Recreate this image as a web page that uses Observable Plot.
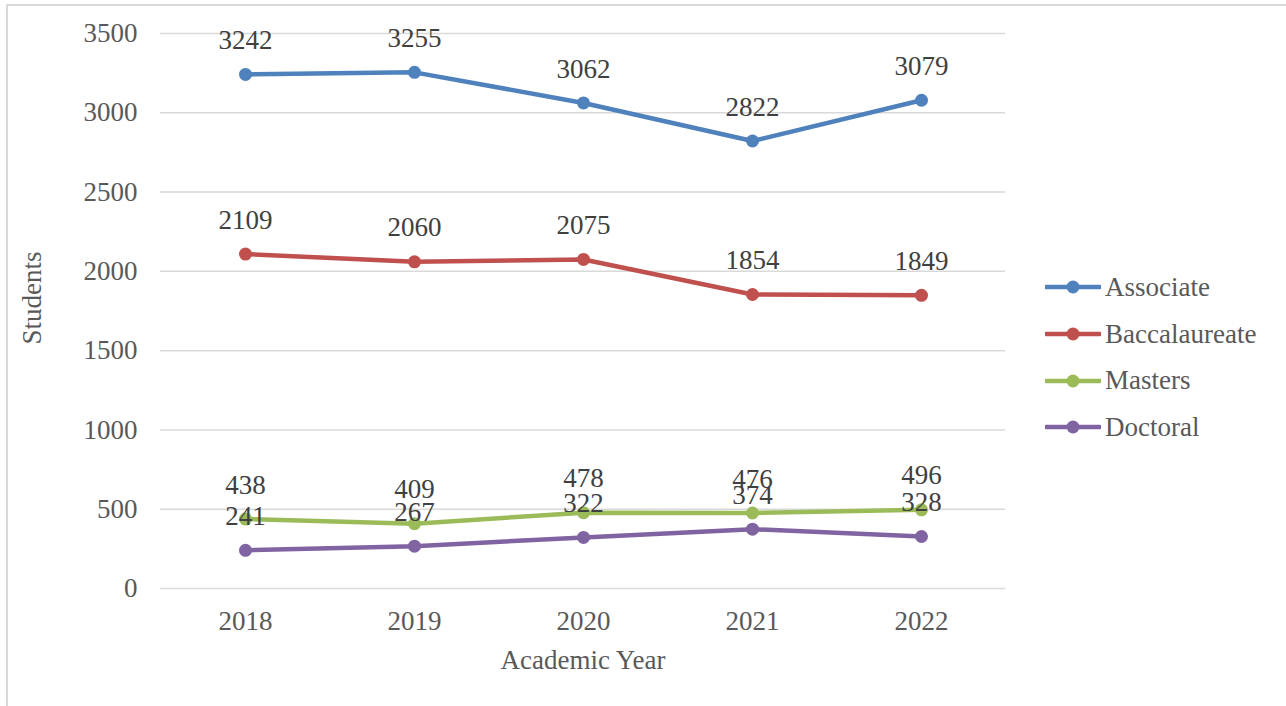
<!DOCTYPE html>
<html>
<head>
<meta charset="utf-8">
<script src="https://cdn.jsdelivr.net/npm/d3@7"></script>
<script src="https://cdn.jsdelivr.net/npm/@observablehq/plot@0.6"></script>
<style>
  html, body { margin: 0; padding: 0; background: #fff; overflow: hidden; }
  #wrap { position: relative; width: 1286px; height: 706px; }
  #border { position: absolute; left: 6px; top: 4px; width: 1400px; height: 800px;
            border-left: 2px solid #d9d9d9; border-top: 2px solid #d9d9d9; }
  #chart { position: absolute; left: 0; top: 0; }
  #legend { position: absolute; left: 1045px; top: 264px; font-family: "Liberation Serif", serif;
            font-size: 27px; color: #595959; }
  .item { display: flex; align-items: center; height: 46.7px; }
  .item svg { margin-right: 4px; }
</style>
</head>
<body>
<div id="wrap">
  <div id="border"></div>
  <div id="chart"></div>
  <div id="legend"></div>
</div>
<script>
const years = ["2018", "2019", "2020", "2021", "2022"];
const seriesNames = ["Associate", "Baccalaureate", "Masters", "Doctoral"];
const seriesColors = ["#4f81bd", "#c0504d", "#9bbb59", "#8064a2"];
const associate = [3242, 3255, 3062, 2822, 3079];
const baccalaureate = [2109, 2060, 2075, 1854, 1849];
const masters = [438, 409, 478, 476, 496];
const doctoral = [241, 267, 322, 374, 328];
const yTicks = [0, 500, 1000, 1500, 2000, 2500, 3000, 3500];
const xTitle = "Academic Year";
const yTitle = "Students";

const seriesValues = [associate, baccalaureate, masters, doctoral];
const data = [];
seriesNames.forEach((name, i) => {
  years.forEach((yr, j) => data.push({series: name, year: yr, value: seriesValues[i][j]}));
});

const chart = Plot.plot({
  width: 1286,
  height: 706,
  marginLeft: 160,
  marginRight: 281,
  marginTop: 33,
  marginBottom: 118,
  style: {fontFamily: "Liberation Serif, serif", fontSize: "27px", background: "transparent"},
  x: {type: "point", domain: years, padding: 0.5, label: null},
  y: {domain: [0, 3500], label: null},
  color: {domain: seriesNames, range: seriesColors},
  marks: [
    Plot.ruleY(yTicks, {stroke: "#d9d9d9", strokeWidth: 1.5}),
    Plot.axisY({ticks: yTicks, tickFormat: d => String(d), tickSize: 0, tickPadding: 23, color: "#595959", fontSize: 27, label: null}),
    Plot.axisX({tickSize: 0, tickPadding: 22, color: "#595959", fontSize: 27, label: null}),
    Plot.line(data, {x: "year", y: "value", z: "series", stroke: "series", strokeWidth: 4.5, strokeLinejoin: "round", strokeLinecap: "round"}),
    Plot.dot(data, {x: "year", y: "value", fill: "series", r: 6.5}),
    Plot.text(data, {x: "year", y: "value", text: d => String(d.value), dy: -34, fill: "#404040", fontSize: 27}),
    Plot.text([xTitle], {frameAnchor: "bottom", dy: 72, lineAnchor: "middle", textAnchor: "middle", fill: "#595959", fontSize: 27}),
    Plot.text([yTitle], {frameAnchor: "left", rotate: -90, dx: -128, dy: -13, textAnchor: "middle", lineAnchor: "middle", fill: "#595959", fontSize: 27})
  ]
});
document.getElementById("chart").appendChild(chart);

const legend = document.getElementById("legend");
seriesNames.forEach((name, i) => {
  const item = document.createElement("div");
  item.className = "item";
  item.innerHTML = `<svg width="56" height="16"><line x1="1" y1="8" x2="55" y2="8" stroke="${seriesColors[i]}" stroke-width="4.5" stroke-linecap="round"/><circle cx="28" cy="8" r="6.5" fill="${seriesColors[i]}"/></svg><span>${name}</span>`;
  legend.appendChild(item);
});
</script>
</body>
</html>
